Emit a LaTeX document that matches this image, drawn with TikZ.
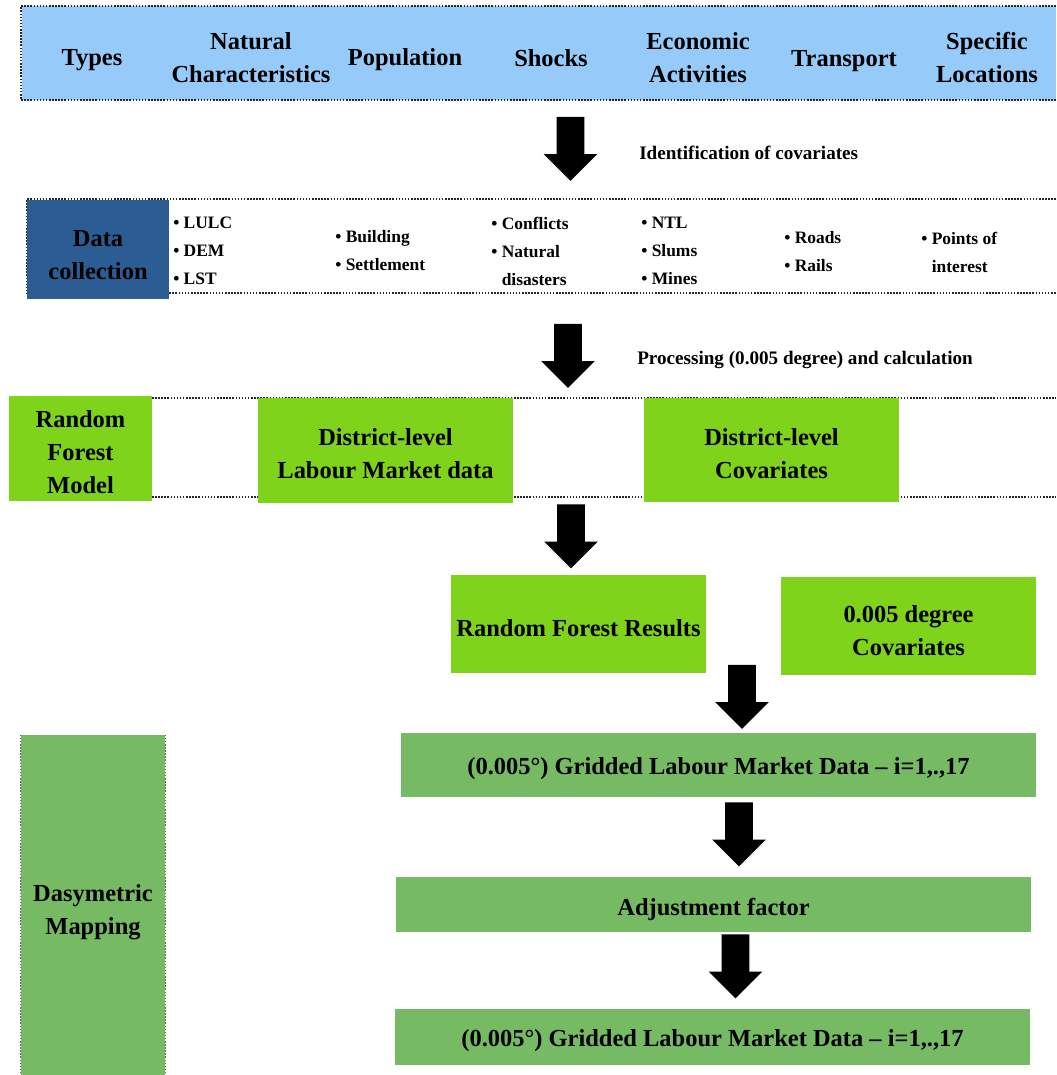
\documentclass[tikz,border=0pt]{standalone}
\usepackage{fontspec}
\setmainfont{Liberation Serif}
\usetikzlibrary{shapes.arrows}

\definecolor{typeblue}{RGB}{150,203,249}
\definecolor{datablue}{RGB}{43,92,148}
\definecolor{limegreen}{RGB}{127,211,26}
\definecolor{mapgreen}{RGB}{118,186,100}

\tikzset{
  box/.style={inner sep=0pt},
  limebox/.style={box, fill=limegreen},
  mapbox/.style={box, fill=mapgreen},
  boxtext/.style={inner sep=0pt, align=center, font=\fontsize{17.4}{23.5}\selectfont\bfseries},
  typetext/.style={boxtext},
  notetext/.style={inner sep=0pt, anchor=west, font=\fontsize{13.6}{16}\selectfont\bfseries},
  bullets/.style={inner sep=0pt, anchor=west, align=left, font=\fontsize{12.4}{19.9}\selectfont\bfseries},
  dotline/.style={line width=0.9pt, dash pattern=on 1.1pt off 1.1pt, black!85},
  bigarrow/.style={single arrow, fill=black, inner xsep=0pt, inner ysep=0.3375cm, minimum height=1.6cm,
    single arrow head extend=0.325cm, single arrow head indent=0pt, rotate=-90}
}

\begin{document}
\begin{tikzpicture}[x=0.025cm, y=-0.025cm]
  % Variables
  \def\u{0.025cm} % one pixel of the reference
  \def\bul{\textbullet\ }
  \useasboundingbox (0,0) rectangle (1056,1075);

  % Types bar
  \fill[typeblue] (22,6) rectangle (1056,100);
  \draw[dotline] (1056,6) -- (21,6) -- (21,100) -- (1056,100);
  \node[typetext] (types) at (92,60) {Types};
  \node[typetext] (natchar) at (251,57.5) {Natural\\Characteristics};
  \node[typetext] (population) at (405,60) {Population};
  \node[typetext] (shocks) at (551,58) {Shocks};
  \node[typetext] (economic) at (698,57.5) {Economic\\Activities};
  \node[typetext] (transport) at (844,61) {Transport};
  \node[typetext] (specific) at (987,57.5) {Specific\\Locations};

  \node[bigarrow] (arrowa) at (570.5,142) {};
  \node[notetext] (identif) at (639,153) {Identification of covariates};

  % Data collection row
  \draw[dotline] (1056,199) -- (27,199) -- (27,293) -- (1056,293);
  \node[box, fill=datablue, minimum width=142*\u, minimum height=99*\u] (datacol) at (98,249.5) {};
  \node[boxtext] (datacoltxt) at ([yshift=-0.15cm]datacol) {Data\\collection};
  \node[bullets] (natlist) at (173,251) {\bul LULC\\\bul DEM\\\bul LST};
  \node[bullets] (poplist) at (335,251) {\bul Building\\\bul Settlement};
  \node[bullets] (shocklist) at (491,251) {\bul Conflicts\\\bul Natural\\\phantom{\bul}disasters};
  \node[bullets] (ecolist) at (641,251) {\bul NTL\\\bul Slums\\\bul Mines};
  \node[bullets] (translist) at (784,252) {\bul Roads\\\bul Rails};
  \node[bullets] (loclist) at (921,252) {\bul Points of\\\phantom{\bul}interest};

  \node[bigarrow] (arrowb) at (568,349) {};
  \node[notetext] (process) at (637,360) {Processing (0.005 degree) and calculation};

  % Random forest row
  \draw[dotline] (152,398) -- (1056,398);
  \draw[dotline] (152,497) -- (1056,497);
  \node[limebox, minimum width=143*\u, minimum height=105*\u] (rfmodel) at (80.5,448.5) {};
  \node[boxtext] (rfmodeltxt) at ([yshift=-0.08cm]rfmodel) {Random\\Forest\\Model};
  \node[limebox, minimum width=255*\u, minimum height=105*\u] (dlabour) at (385.5,450.5) {};
  \node[boxtext] (dlabourtxt) at ([yshift=-0.09cm]dlabour) {District-level\\Labour Market data};
  \node[limebox, minimum width=255*\u, minimum height=104*\u] (dcovar) at (771.5,450) {};
  \node[boxtext] (dcovartxt) at ([yshift=-0.1cm]dcovar) {District-level\\Covariates};

  \node[bigarrow] (arrowc) at (571,529.5) {};
  \node[limebox, minimum width=255*\u, minimum height=98*\u] (rfresults) at (578.5,624) {};
  \node[boxtext] (rfresultstxt) at ([yshift=-0.1cm]rfresults) {Random Forest Results};
  \node[limebox, minimum width=255*\u, minimum height=98*\u] (degcovar) at (908.5,626) {};
  \node[boxtext] (degcovartxt) at ([yshift=-0.12cm]degcovar) {0.005 degree\\Covariates};

  % Dasymetric mapping
  \node[mapbox, minimum width=144*\u, minimum height=340*\u] (dasy) at (93,905) {};
  \node[boxtext] (dasytxt) at ([yshift=-0.18cm]dasy) {Dasymetric\\Mapping};
  \draw[dotline, black!60] (dasy.north west) -- (dasy.south west);
  \draw[dotline, black!60] (dasy.north east) -- (dasy.south east);

  \node[bigarrow] (arrowd) at (742,690) {};
  \node[mapbox, minimum width=635*\u, minimum height=64*\u] (gridded) at (718.5,765) {};
  \node[boxtext] (griddedtxt) at ([yshift=-0.08cm]gridded) {(0.005°) Gridded Labour Market Data – i=1,.,17};
  \node[bigarrow] (arrowe) at (739,827.5) {};
  \node[mapbox, minimum width=635*\u, minimum height=55*\u] (adjust) at (713.5,904.5) {};
  \node[boxtext] (adjusttxt) at ([yshift=-0.12cm]adjust) {Adjustment factor};
  \node[bigarrow] (arrowf) at (735.5,959.5) {};
  \node[mapbox, minimum width=635*\u, minimum height=56*\u] (final) at (712.5,1037) {};
  \node[boxtext] (finaltxt) at ([yshift=-0.1cm]final) {(0.005°) Gridded Labour Market Data – i=1,.,17};
\end{tikzpicture}
\end{document}
